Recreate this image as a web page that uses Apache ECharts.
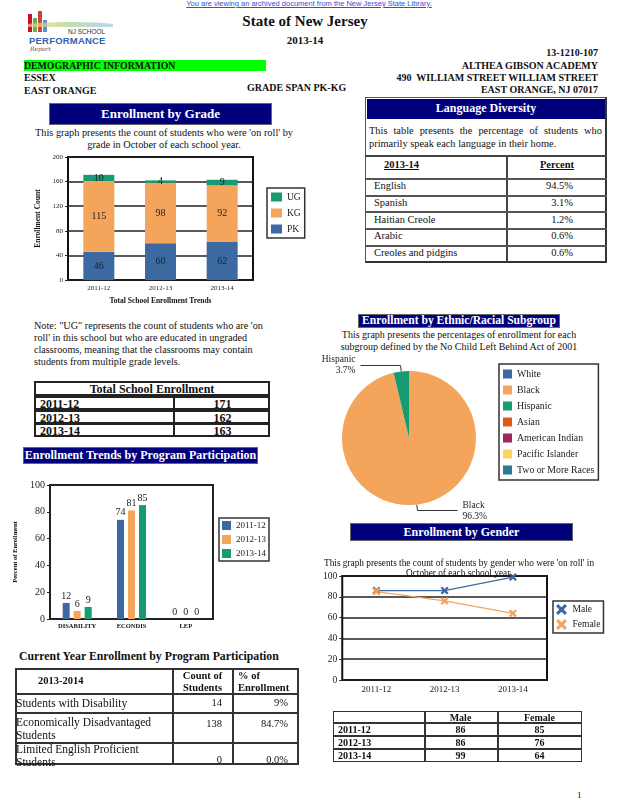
<!DOCTYPE html>
<html><head><meta charset="utf-8">
<script src="https://cdn.jsdelivr.net/npm/echarts@6/dist/echarts.min.js"></script>
<style>
body{margin:0;width:618px;height:800px;position:relative;background:#fff;font-family:"Liberation Serif","Times New Roman",serif;color:#111;overflow:hidden}
.a{position:absolute;white-space:nowrap;line-height:1}
.b{font-weight:bold}
.hdr{position:absolute;background:#00007c;color:#fff;font-weight:bold;text-align:center;box-sizing:border-box;border:1px solid #666;white-space:nowrap}
.ch{position:absolute}
.ln{position:absolute;background:#333}
</style>
</head><body>
<script>
// ---------- DATA ----------
const gradeYears = ['2011-12','2012-13','2013-14'];
const gradePK = [46,60,62];
const gradeKG = [115,98,92];
const gradeUG = [10,4,9];

const programCats = ['DISABILITY','ECONDIS','LEP'];
const programYears = ['2011-12','2012-13','2013-14'];
const program2011 = [12,74,0];
const program2012 = [6,81,0];
const program2013 = [9,85,0];

const ethnicNames = ['White','Black','Hispanic','Asian','American Indian','Pacific Islander','Two or More Races'];
const ethnicValues = [0,96.3,3.7,0,0,0,0];

const genderYears = ['2011-12','2012-13','2013-14'];
const genderMale = [86,86,99];
const genderFemale = [85,76,64];

const languages = ['English','Spanish','Haitian Creole','Arabic','Creoles and pidgins'];
const languagePct = ['94.5%','3.1%','1.2%','0.6%','0.6%'];

const totalYears = ['2011-12','2012-13','2013-14'];
const totalEnroll = [171,162,163];

const progRowNames = ['Students with Disability','Economically Disadvantaged<br>Students','Limited English Proficient<br>Students'];
const progCounts = [14,138,0];
const progPct = ['9%','84.7%','0.0%'];
</script>

<!-- header -->
<div class="a" style="left:0;width:618px;top:0px;text-align:center;font-family:'Liberation Sans',Arial,sans-serif;font-size:7.5px;color:#3a4fd0;text-decoration:underline">You are viewing an archived document from the New Jersey State Library.</div>
<!-- logo -->
<div style="position:absolute;left:28px;top:14px;width:4px;height:18px;background:#c8102e"></div>
<div style="position:absolute;left:33px;top:18px;width:4px;height:14px;background:#6ab04c"></div>
<div style="position:absolute;left:38px;top:11px;width:4px;height:21px;background:#d04040"></div>
<div style="position:absolute;left:43px;top:20px;width:4px;height:12px;background:#5b8fd0"></div>
<div style="position:absolute;left:28px;top:22px;width:85px;height:5px;border-radius:50% 50% 0 0;background:linear-gradient(90deg,#f4d27a,#a8d08d,#9ec3e6);opacity:.7"></div>
<div class="a" style="left:68px;top:29px;font-family:'Liberation Sans',Arial;font-size:6.5px;color:#333">NJ SCHOOL</div>
<div class="a" style="left:29px;top:36px;font-family:'Liberation Sans',Arial;font-weight:bold;font-size:9.5px;color:#2f64b0;letter-spacing:.2px">PERFORMANCE</div>
<div class="a" style="left:30px;top:46px;font-family:'DejaVu Serif';font-style:italic;font-size:6px;color:#555">Report</div>

<div class="a b" style="left:0;width:610px;top:14px;text-align:center;font-size:15px">State of New Jersey</div>
<div class="a b" style="left:0;width:610px;top:35px;text-align:center;font-size:11px">2013-14</div>
<div class="a b" style="right:20px;top:48px;font-size:10px">13-1210-107</div>
<div class="a b" style="left:24px;top:60px;width:242px;height:11px;background:#00ff00;font-size:9.8px;line-height:12px">DEMOGRAPHIC INFORMATION</div>
<div class="a b" style="right:20px;top:61px;font-size:10px">ALTHEA GIBSON ACADEMY</div>
<div class="a b" style="left:24px;top:73px;font-size:10px">ESSEX</div>
<div class="a b" style="right:20px;top:73px;font-size:10px">490&nbsp; WILLIAM STREET WILLIAM STREET</div>
<div class="a b" style="left:24px;top:86px;font-size:10px">EAST ORANGE</div>
<div class="a b" style="left:247px;top:83px;font-size:10px">GRADE SPAN PK-KG</div>
<div class="a b" style="right:20px;top:85px;font-size:10px">EAST ORANGE, NJ 07017</div>

<!-- Enrollment by Grade -->
<div class="hdr" style="left:49px;top:103px;width:223px;height:22px;font-size:13px;line-height:20px">Enrollment by Grade</div>
<div class="a" style="left:20px;width:288px;top:127px;text-align:center;font-size:10.3px;line-height:12px">This graph presents the count of students who were 'on roll' by<br>grade in October of each school year.</div>
<div id="cGrade" class="ch" style="left:20px;top:150px;width:290px;height:160px"></div>

<!-- Language Diversity -->
<div style="position:absolute;left:365px;top:97px;width:242px;height:166px;box-sizing:border-box;border:1px solid #555;border-right:2px solid #333;border-bottom:2px solid #333"></div>
<div class="hdr" style="left:367px;top:99px;width:238px;height:20px;font-size:12px;line-height:18px;border:none">Language Diversity</div>
<div style="position:absolute;left:369px;top:124px;width:233px;font-size:10.4px;line-height:13px;text-align:justify;text-align-last:left">This table presents the percentage of students who primarily speak each language in their home.</div>
<div id="langTable"></div>

<!-- Note -->
<div class="a" style="left:34px;top:320px;font-size:10.2px;line-height:12px">Note: "UG" represents the count of students who are 'on<br>roll' in this school but who are educated in ungraded<br>classrooms, meaning that the classrooms may contain<br>students from multiple grade levels.</div>
<div id="totalTable"></div>

<div class="hdr" style="left:23px;top:447px;width:235px;height:17px;font-size:12px;line-height:15px">Enrollment Trends by Program Participation</div>
<div id="cProg" class="ch" style="left:0px;top:470px;width:320px;height:165px"></div>

<div class="a b" style="left:19px;top:651px;font-size:11.8px">Current Year Enrollment by Program Participation</div>
<div id="curTable"></div>

<!-- Ethnic -->
<div class="hdr" style="left:358px;top:314px;width:202px;height:14px;font-size:11.6px;line-height:12px">Enrollment by Ethnic/Racial Subgroup</div>
<div class="a" style="left:330px;width:258px;top:329px;text-align:center;font-size:10px;line-height:12px">This graph presents the percentages of enrollment for each<br>subgroup defined by the No Child Left Behind Act of 2001</div>
<div id="cPie" class="ch" style="left:290px;top:340px;width:328px;height:182px"></div>

<!-- Gender -->
<div class="hdr" style="left:350px;top:523px;width:223px;height:18px;font-size:12px;line-height:16px">Enrollment by Gender</div>
<div id="cGender" class="ch" style="left:320px;top:555px;width:298px;height:140px"></div>
<div class="a" style="left:320px;width:278px;top:558px;text-align:center;font-size:9.3px;line-height:10px;z-index:3">This graph presents the count of students by gender who were 'on roll' in<br>October of each school year.</div>
<div id="genTable"></div>

<div class="a" style="left:577px;top:791px;font-size:9px">1</div>

<script>
const FONT = 'Liberation Serif';
const C_BLUE = '#3d69a2', C_ORANGE = '#f4a55b', C_GREEN = '#169b73';

function el(html){ document.body.insertAdjacentHTML('beforeend', html); }
function hline(x,y,w,t,c){ el(`<div class="ln" style="left:${x}px;top:${y}px;width:${w}px;height:${t||1}px;background:${c||'#333'}"></div>`); }
function vline(x,y,h,t,c){ el(`<div class="ln" style="left:${x}px;top:${y}px;width:${t||1}px;height:${h}px;background:${c||'#333'}"></div>`); }
function txt(x,y,s,extra){ el(`<div class="a" style="left:${x}px;top:${y}px;${extra||''}">${s}</div>`); }

// Language table
(function(){
  hline(365,155,242,2,'#444');
  vline(506,155,107,2,'#444');
  txt(384,160,'<u>2013-14</u>','font-size:10.5px;font-weight:bold');
  txt(507,160,'<u>Percent</u>','width:100px;text-align:center;font-size:10.5px;font-weight:bold');
  const ys=[178,194.5,211,228,244.5];
  languages.forEach((l,i)=>{
    hline(365,Math.round(ys[i]),242,2,'#555');
    const cy = Math.round(ys[i]+ (i<4? (ys[i+1]-ys[i]) : 17.5)/2);
    txt(374,cy-5,l,'font-size:10.5px');
    txt(507,cy-5,languagePct[i],'width:66px;text-align:right;font-size:10.5px');
  });
})();

// Total enrollment table
(function(){
  const x=34,w=236;
  el(`<div style="position:absolute;left:${x}px;top:381px;width:${w}px;height:15px;box-sizing:border-box;border:2px solid #222;font-weight:bold;font-size:12px;line-height:12px;text-align:center">Total School Enrollment</div>`);
  const rt=[396,409.5,423];
  totalYears.forEach((y,i)=>{
    const t=Math.round(rt[i]);
    el(`<div style="position:absolute;left:${x}px;top:${t}px;width:${w}px;height:14px;box-sizing:border-box;border:2px solid #222"></div>`);
    vline(173,t,14,2,'#222');
    txt(40,t+2,y,'font-weight:bold;font-size:12px');
    txt(175,t+2,totalEnroll[i],'width:95px;text-align:center;font-weight:bold;font-size:12px');
  });
})();

// Current year table
(function(){
  el(`<div style="position:absolute;left:15px;top:668px;width:284px;height:97px;box-sizing:border-box;border:2px solid #333"></div>`);
  vline(172,668,97,1.5,'#333'); vline(232,668,97,1.5,'#333');
  hline(15,693,284,1.5,'#333'); hline(15,712,284,1.5,'#333'); hline(15,742,284,1.5,'#333');
  txt(38,676,'2013-2014','font-weight:bold;font-size:10.5px');
  txt(173,670,'Count of<br>Students','width:59px;text-align:center;font-weight:bold;font-size:10.5px;line-height:12px');
  txt(238,670,'% of<br>Enrollment','font-weight:bold;font-size:10.5px;line-height:12px');
  const rows=[[697,703],[716,724],[743,754]];
  progRowNames.forEach((n,i)=>{
    txt(16,rows[i][0],n,'font-size:11.5px;line-height:13px');
    const vy = i===2?755:rows[i][1]-5;
    txt(172,vy,progCounts[i],'width:50px;text-align:right;font-size:10.5px');
    txt(232,vy,progPct[i],'width:56px;text-align:right;font-size:10.5px');
  });
})();

// Gender table
(function(){
  const x=333,w=249;
  el(`<div style="position:absolute;left:${x}px;top:711px;width:${w}px;height:12px;box-sizing:border-box;border:1.5px solid #333"></div>`);
  vline(424,711,51,1.5,'#333'); vline(497,711,51,1.5,'#333');
  txt(424,713,'Male','width:73px;text-align:center;font-weight:bold;font-size:10px');
  txt(497,713,'Female','width:85px;text-align:center;font-weight:bold;font-size:10px');
  const rt=[723,736,749];
  genderYears.forEach((y,i)=>{
    el(`<div style="position:absolute;left:${x}px;top:${rt[i]}px;width:${w}px;height:13px;box-sizing:border-box;border:1.5px solid #333"></div>`);
    txt(338,rt[i]+2,y,'font-weight:bold;font-size:10px');
    txt(424,rt[i]+2,genderMale[i],'width:73px;text-align:center;font-weight:bold;font-size:10px');
    txt(497,rt[i]+2,genderFemale[i],'width:85px;text-align:center;font-weight:bold;font-size:10px');
  });
})();

// ---------- CHARTS ----------
const baseText = {fontFamily:FONT,color:'#222'};

// Grade chart
echarts.init(document.getElementById('cGrade')).setOption({
  animation:false, textStyle:baseText,
  grid:{left:48,top:7,width:185,height:126,show:true,borderColor:'#111',borderWidth:2,backgroundColor:'transparent'},
  legend:{data:['UG','KG','PK'],orient:'vertical',left:247,top:38,icon:'rect',itemWidth:11,itemHeight:9,itemGap:6,
    padding:[4,4,4,4],borderColor:'#333',borderWidth:1.5,textStyle:{fontFamily:FONT,fontSize:9.5,color:'#222'}},
  xAxis:{type:'category',data:gradeYears,axisLine:{show:false},axisTick:{show:false},
    axisLabel:{fontSize:7,margin:5,color:'#222'},
    name:'Total School Enrollment Trends',nameLocation:'middle',nameGap:13,
    nameTextStyle:{fontFamily:FONT,fontSize:7.5,fontWeight:'bold',color:'#111'}},
  yAxis:{type:'value',min:0,max:200,interval:40,axisLine:{show:false},
    axisTick:{show:true,length:3,lineStyle:{color:'#222'}},
    axisLabel:{fontSize:7,margin:5,color:'#222'},
    splitLine:{lineStyle:{color:'#222',width:1.5}},
    name:'Enrollment Count',nameLocation:'middle',nameGap:20,
    nameTextStyle:{fontFamily:FONT,fontSize:7.5,fontWeight:'bold',color:'#111'}},
  series:[
    {name:'PK',type:'bar',stack:'g',data:gradePK,barWidth:31,itemStyle:{color:C_BLUE},
      label:{show:true,position:'inside',fontSize:10,color:'#222',fontFamily:FONT}},
    {name:'KG',type:'bar',stack:'g',data:gradeKG,barWidth:31,itemStyle:{color:C_ORANGE},
      label:{show:true,position:'inside',fontSize:10,color:'#222',fontFamily:FONT}},
    {name:'UG',type:'bar',stack:'g',data:gradeUG,barWidth:31,itemStyle:{color:C_GREEN},
      label:{show:true,position:'inside',fontSize:10,color:'#222',fontFamily:FONT}}
  ]
});

// Program chart
const progLabel = {show:true,position:'top',distance:2,fontSize:10,color:'#222',fontFamily:FONT};
echarts.init(document.getElementById('cProg')).setOption({
  animation:false, textStyle:baseText,
  grid:{left:50,top:15,width:163,height:134,show:true,borderColor:'#222',borderWidth:2},
  legend:{data:programYears,orient:'vertical',left:219,top:48,icon:'rect',itemWidth:9,itemHeight:9,itemGap:5,
    padding:[3,3,3,3],borderColor:'#333',borderWidth:1.5,textStyle:{fontFamily:FONT,fontSize:9,color:'#222'}},
  xAxis:{type:'category',data:programCats,axisLine:{show:false},axisTick:{show:false},
    axisLabel:{fontSize:6.5,fontWeight:'bold',margin:4,color:'#111'}},
  yAxis:{type:'value',min:0,max:100,interval:20,axisLine:{show:false},
    axisTick:{show:true,length:3,lineStyle:{color:'#222'}},
    axisLabel:{fontSize:10,margin:5,color:'#222'},splitLine:{show:false},
    name:'Percent of Enrollment',nameLocation:'middle',nameGap:20,
    nameTextStyle:{fontFamily:FONT,fontSize:6.5,fontWeight:'bold',color:'#111'}},
  series:[
    {name:programYears[0],type:'bar',data:program2011,barWidth:7,barGap:'57%',itemStyle:{color:C_BLUE},label:progLabel},
    {name:programYears[1],type:'bar',data:program2012,barWidth:7,barGap:'57%',itemStyle:{color:C_ORANGE},label:progLabel},
    {name:programYears[2],type:'bar',data:program2013,barWidth:7,barGap:'57%',itemStyle:{color:C_GREEN},label:progLabel}
  ]
});

// Pie chart (div starts at x=290)
const pieColors = ['#3d69a2','#f4a55b','#169b73','#e05a1e','#a3245e','#fdd363','#2a7b96'];
echarts.init(document.getElementById('cPie')).setOption({
  animation:false, textStyle:baseText, color:pieColors,
  legend:{data:ethnicNames,orient:'vertical',left:209,top:24,icon:'rect',itemWidth:9,itemHeight:9,itemGap:6,
    padding:[5,4,5,4],borderColor:'#333',borderWidth:1.5,textStyle:{fontFamily:FONT,fontSize:9.8,color:'#222'}},
  series:[{type:'pie',center:[119,98],radius:67,startAngle:90,clockwise:true,
    itemStyle:{borderWidth:0},
    label:{fontFamily:FONT,fontSize:9.5,color:'#222',formatter:'{b}\n{c}%',lineHeight:11,overflow:'none',align:'center'},
    labelLine:{length:6,length2:40,lineStyle:{color:'#333',width:1}},
    data:ethnicNames.map((n,i)=>({name:n,value:ethnicValues[i],
      label:{show:ethnicValues[i]>0},labelLine:{show:ethnicValues[i]>0}}))}]
});

// Gender chart
const xSym = 'path://M0,2 L2,0 L5,3 L8,0 L10,2 L7,5 L10,8 L8,10 L5,7 L2,10 L0,8 L3,5 Z';
echarts.init(document.getElementById('cGender')).setOption({
  animation:false, textStyle:baseText,
  grid:{left:22,top:21,width:205,height:104,show:true,borderColor:'#111',borderWidth:2},
  legend:{data:[{name:'Male',icon:xSym},{name:'Female',icon:xSym}],orient:'vertical',left:233,top:46,itemWidth:12,itemHeight:11,itemGap:4,
    padding:[3,3,3,3],borderColor:'#333',borderWidth:1.5,textStyle:{fontFamily:FONT,fontSize:9.5,color:'#222'}},
  xAxis:{type:'category',data:genderYears,boundaryGap:true,axisLine:{show:false},axisTick:{show:false},
    axisLabel:{fontSize:9,margin:5,color:'#222'}},
  yAxis:{type:'value',min:0,max:100,interval:20,axisLine:{show:false},
    axisTick:{show:true,length:3,lineStyle:{color:'#222'}},
    axisLabel:{fontSize:9.5,margin:5,color:'#222'},
    splitLine:{lineStyle:{color:'#222',width:1.5}}},
  series:[
    {name:'Male',type:'line',data:genderMale,symbol:xSym,symbolSize:8,lineStyle:{color:C_BLUE,width:1.2},itemStyle:{color:C_BLUE}},
    {name:'Female',type:'line',data:genderFemale,symbol:xSym,symbolSize:8,lineStyle:{color:C_ORANGE,width:1.2},itemStyle:{color:C_ORANGE}}
  ]
});
</script>
</body></html>
